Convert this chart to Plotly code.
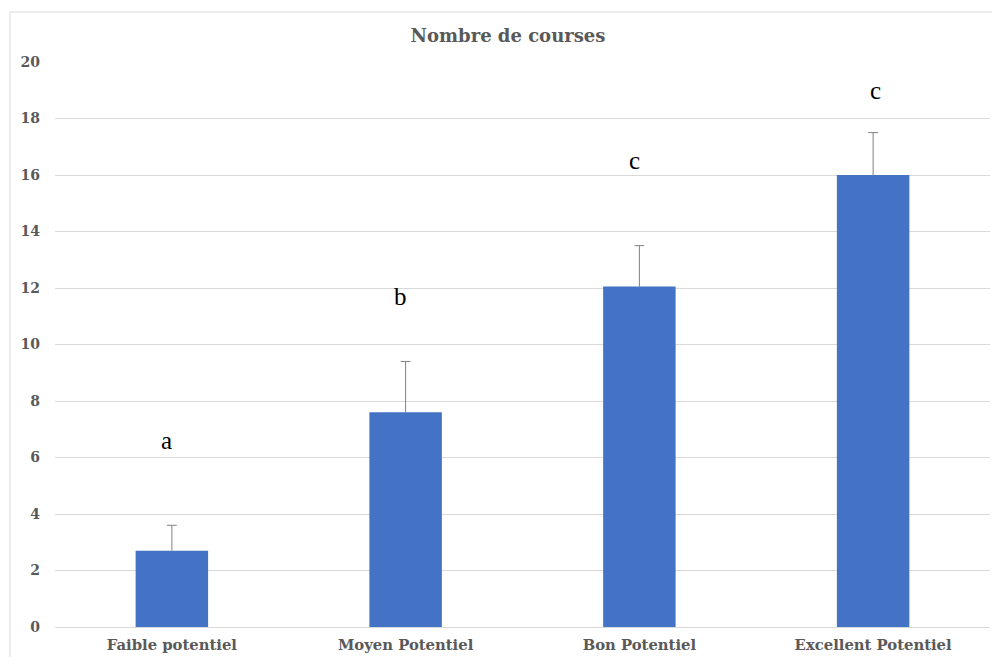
import plotly.graph_objects as go

# Race counts by potential level
categories = ["Faible potentiel", "Moyen Potentiel", "Bon Potentiel", "Excellent Potentiel"]
means = [2.7, 7.6, 12.05, 16.0]
errors = [0.9, 1.8, 1.45, 1.5]
group_letters = ["a", "b", "c", "c"]
letter_y = [6.6, 11.7, 16.5, 19.0]
y_ticks = [0, 2, 4, 6, 8, 10, 12, 14, 16, 18, 20]

W, H = 992, 657
ML, MR, MT, MB = 55, 2, 62, 30
GRID = "#d9d9d9"
TEXT_GRAY = "#595959"
ERR_GRAY = "#7f7f7f"
SERIF = "DejaVu Serif"

fig = go.Figure()
fig.add_trace(go.Bar(
    x=categories,
    y=means,
    marker=dict(color="#4472C4", line=dict(width=0)),
    error_y=dict(type="data", array=errors, symmetric=False, arrayminus=[0] * len(errors),
                 color=ERR_GRAY, thickness=1, width=0),
    width=0.31,
    hoverinfo="skip",
))

# cap at the upper end of each error bar only
upper = [m + e for m, e in zip(means, errors)]
fig.add_trace(go.Scatter(
    x=categories, y=upper, mode="markers",
    marker=dict(symbol="line-ew", size=7, line=dict(color=ERR_GRAY, width=1)),
    hoverinfo="skip",
))

# significance letters above each bar
for i, (cat, lab, yy) in enumerate(zip(categories, group_letters, letter_y)):
    fig.add_annotation(x=cat, y=yy, text=lab, showarrow=False,
                       font=dict(family="Liberation Serif", size=25, color="#000000"),
                       xanchor="center", yanchor="middle",
                       xshift=-5 if i < 3 else 2)

pw = W - ML - MR
ph = H - MT - MB
# chart frame
fig.add_shape(type="rect", xref="paper", yref="paper",
              x0=(10 - ML) / pw, x1=(W + 20 - ML) / pw,
              y0=-(H + 20 - (H - MB)) / ph, y1=((H - MB) - 12) / ph,
              line=dict(color=GRID, width=1), fillcolor="rgba(0,0,0,0)", layer="below")

fig.update_layout(
    width=W, height=H,
    margin=dict(l=ML, r=MR, t=MT, b=MB),
    paper_bgcolor="white", plot_bgcolor="white",
    showlegend=False,
    title=dict(text="<b>Nombre de courses</b>", x=508 / W, xanchor="center",
               y=1 - 36 / H, yanchor="middle",
               font=dict(family=SERIF, size=18, color=TEXT_GRAY)),
    xaxis=dict(range=[-0.5, 3.5], showgrid=False, showline=True, linecolor=GRID, linewidth=1,
               ticks="", tickfont=dict(family=SERIF, size=14.8, color=TEXT_GRAY),
               tickvals=categories, ticktext=[f"<b>{c}</b>" for c in categories],
               ticklabelstandoff=4),
    yaxis=dict(range=[0, 20], tickvals=y_ticks, ticktext=[f"<b>{t}</b>" for t in y_ticks],
               showgrid=True, gridcolor=GRID, gridwidth=1, zeroline=False,
               showline=False, ticks="",
               tickfont=dict(family=SERIF, size=14, color=TEXT_GRAY),
               ticklabelstandoff=14),
)

fig.write_html("out.html")
